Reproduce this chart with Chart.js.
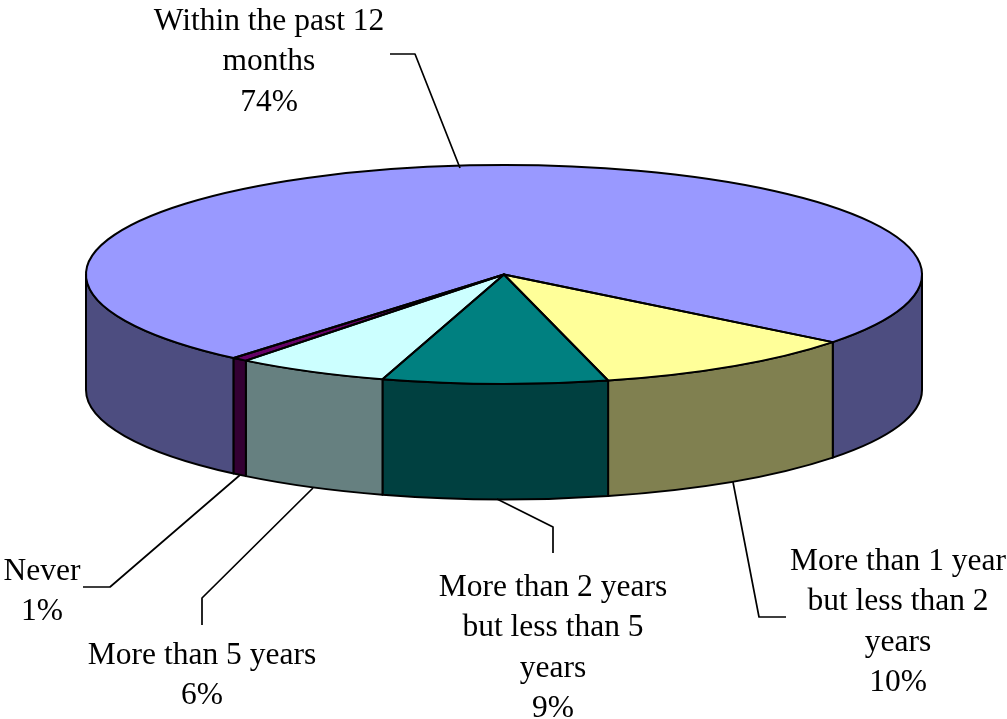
<!DOCTYPE html>
<html>
<head>
<meta charset="utf-8">
<style>html,body{margin:0;padding:0;background:#fff}canvas{display:block}</style>
<script src="https://cdn.jsdelivr.net/npm/chart.js@4"></script>
</head>
<body>
<canvas id="c" width="1007" height="719"></canvas>
<script>
const categories = ["Within the past 12 months","More than 1 year but less than 2 years","More than 2 years but less than 5 years","More than 5 years","Never"];
const values = [74.4,10.4,8.7,5.9,0.6];
const wrappedLabels = [["Within the past 12","months"],["More than 1 year","but less than 2","years"],["More than 2 years","but less than 5","years"],["More than 5 years"],["Never"]];
const topColors = ["#9999ff","#ffff99","#008080","#ccffff","#660066"];
const sideColors = ["#4d4d80","#808050","#004040","#668080","#330033"];

const disk = {cx:504, cy:274.5, rx:418, ry:109.5, depth:115.5};
const labelPos = [
  {x:269, y:30}, {x:898, y:570}, {x:553, y:596}, {x:202, y:664}, {x:42, y:580}
];
const leaders = [
  [[390,54],[415,54],[460,168]],
  [[786,617],[759,617],[733,482]],
  [[553,553],[553,527],[497,499]],
  [[202,625],[202,598],[313,488]],
  [[83,587],[110,587],[240,475]]
];
const LH = 40.3;

function segs(a,b){
  const T=Math.PI*2; let s=a%T; if(s<0)s+=T; const e=s+(b-a); const out=[];
  [[0,Math.PI],[T,T+Math.PI]].forEach(([lo,hi])=>{
    const p=Math.max(s,lo), q=Math.min(e,hi);
    if(q>p) out.push([p,q]);
  });
  return out;
}
const pie3d = {
  id:'pie3d',
  beforeDatasetsDraw(chart){
    const ctx=chart.ctx, d=disk;
    chart.getDatasetMeta(0).data.forEach((el,i)=>{
      segs(el.startAngle,el.endAngle).forEach(([p,q])=>{
        ctx.beginPath();
        ctx.ellipse(d.cx,d.cy,d.rx,d.ry,0,p,q);
        ctx.ellipse(d.cx,d.cy+d.depth,d.rx,d.ry,0,q,p,true);
        ctx.closePath();
        ctx.fillStyle=sideColors[i]; ctx.fill();
        ctx.strokeStyle='#000'; ctx.lineWidth=2; ctx.lineJoin='round'; ctx.stroke();
      });
    });
  },
  beforeDatasetDraw(chart){
    const ctx=chart.ctx, d=disk, el=chart.getDatasetMeta(0).data[0], R=el.outerRadius;
    ctx.save();
    ctx.translate(d.cx,d.cy);
    ctx.scale(d.rx/R,d.ry/R);
    ctx.translate(-el.x,-el.y);
  },
  afterDatasetDraw(chart){ chart.ctx.restore(); },
  afterDatasetsDraw(chart){
    const ctx=chart.ctx, d=disk;
    ctx.strokeStyle='#000'; ctx.lineWidth=2; ctx.lineJoin='round';
    chart.getDatasetMeta(0).data.forEach(el=>{
      ctx.beginPath();
      ctx.moveTo(d.cx,d.cy);
      ctx.ellipse(d.cx,d.cy,d.rx,d.ry,0,el.startAngle,el.endAngle);
      ctx.closePath();
      ctx.stroke();
    });
    ctx.lineWidth=1.7;
    leaders.forEach(l=>{
      ctx.beginPath();
      l.forEach((p,i)=> i?ctx.lineTo(p[0],p[1]):ctx.moveTo(p[0],p[1]));
      ctx.stroke();
    });
    ctx.fillStyle='#000';
    ctx.font='31.5px "Liberation Serif"';
    ctx.textAlign='center'; ctx.textBaseline='alphabetic';
    wrappedLabels.forEach((lines,i)=>{
      const all=lines.concat([Math.round(values[i])+'%']);
      all.forEach((t,k)=>ctx.fillText(t,labelPos[i].x,labelPos[i].y+k*LH));
    });
  }
};
new Chart(document.getElementById('c'),{
  type:'pie',
  data:{labels:categories,datasets:[{data:values,backgroundColor:topColors,borderWidth:0}]},
  options:{
    responsive:false,animation:false,rotation:220.3,
    layout:{padding:0},
    events:[],
    plugins:{legend:{display:false},tooltip:{enabled:false},title:{display:false}}
  },
  plugins:[pie3d]
});
</script>
</body>
</html>
